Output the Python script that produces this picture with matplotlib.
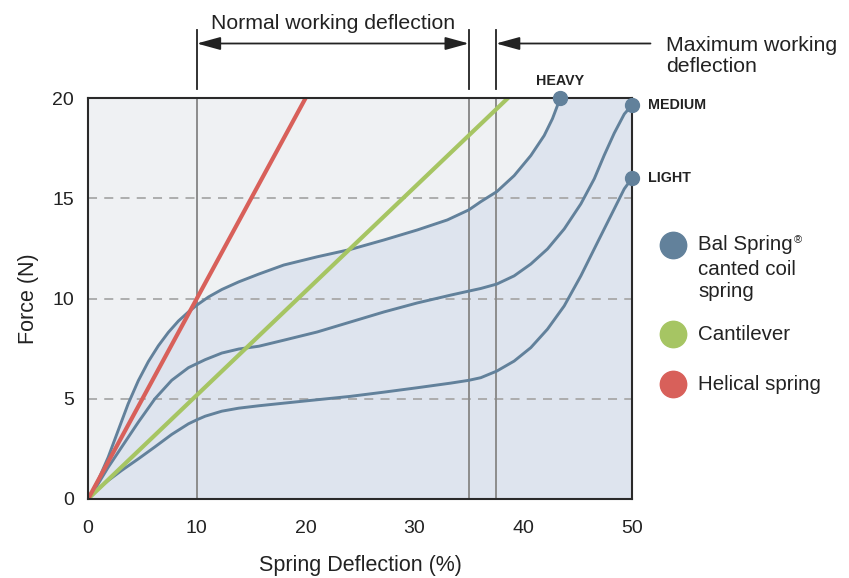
import matplotlib
matplotlib.use("Agg")
import matplotlib.pyplot as plt

plt.rcParams["font.family"] = ["Liberation Sans", "DejaVu Sans"]

# values
heavy_x = [0, 0.92, 1.85, 2.77, 3.69, 4.62, 5.54, 6.46, 7.38, 8.31, 9.23, 10.0,
           11.08, 12.3, 13.85, 15.7, 17.99, 21.06, 24.13, 27.2, 30.27, 33.03,
           35.0, 36.1, 37.57, 39.17, 40.7, 41.93, 42.69, 43.15, 43.4]
heavy_y = [0, 0.92, 2.08, 3.42, 4.75, 5.9, 6.85, 7.64, 8.31, 8.88, 9.33, 9.67,
           10.08, 10.45, 10.83, 11.22, 11.67, 12.08, 12.45, 12.92, 13.42, 13.92,
           14.42, 14.83, 15.33, 16.13, 17.13, 18.13, 18.97, 19.63, 20.0]

medium_x = [0, 0.92, 1.85, 3.08, 4.62, 6.15, 7.69, 9.23, 10.0, 10.77, 12.3, 13.85,
            15.7, 17.99, 21.06, 24.13, 27.2, 30.27, 33.34, 35.0, 36.1, 37.57,
            39.17, 40.7, 42.23, 43.77, 45.3, 46.53, 47.45, 48.37, 49.29, 50.0]
medium_y = [0, 0.75, 1.58, 2.58, 3.83, 5.0, 5.92, 6.55, 6.75, 6.95, 7.28, 7.48,
            7.62, 7.92, 8.33, 8.83, 9.33, 9.78, 10.17, 10.37, 10.5, 10.72,
            11.13, 11.72, 12.47, 13.47, 14.72, 15.97, 17.15, 18.25, 19.2, 19.65]

light_x = [0, 0.92, 1.85, 3.08, 4.62, 6.15, 7.69, 9.23, 10.0, 10.77, 12.3, 13.85,
           15.7, 17.99, 21.06, 24.13, 27.2, 30.27, 33.34, 35.0, 36.1, 37.57,
           39.17, 40.7, 42.23, 43.77, 45.3, 46.83, 48.37, 49.29, 50.0]
light_y = [0, 0.5, 0.92, 1.42, 2.0, 2.6, 3.22, 3.75, 3.95, 4.13, 4.38, 4.53,
           4.65, 4.78, 4.95, 5.12, 5.33, 5.55, 5.78, 5.92, 6.05, 6.38,
           6.88, 7.55, 8.47, 9.63, 11.13, 12.8, 14.47, 15.47, 16.0]

cantilever_x = [0, 38.6]
cantilever_y = [0, 20]

helical_x = [0, 20]
helical_y = [0, 20]

normal_range = [10, 35]
max_start = 37.5

x_ticks = [0, 10, 20, 30, 40, 50]
y_ticks = [0, 5, 10, 15, 20]

legend_labels = ["Bal Spring", "Cantilever", "Helical spring"]

BLUE = "#62819b"
GREEN = "#a6c563"
RED = "#d8605a"
TEXT = "#222222"


def main():
    fig = plt.figure(figsize=(8.49, 5.78), dpi=100)
    ax = fig.add_axes([0.1037, 0.1367, 0.6407, 0.6937])

    ax.set_xlim(0, 50)
    ax.set_ylim(0, 20)
    ax.set_facecolor("#eff1f3")

    # shaded region under the heavy curve
    fill_x = heavy_x + [50]
    fill_y = heavy_y + [20]
    ax.fill_between(fill_x, 0, fill_y, color="#dee4ee", lw=0, zorder=1)

    for yv in y_ticks[1:-1]:
        ax.axhline(yv, color="#a8a8a8", lw=1.3, ls=(0, (5, 4)), zorder=2)

    for xv in normal_range + [max_start]:
        ax.axvline(xv, color="#8c8c8c", lw=1.4, zorder=2)

    for xs, ys in [(heavy_x, heavy_y), (medium_x, medium_y), (light_x, light_y)]:
        ax.plot(xs, ys, color=BLUE, lw=2.1, zorder=3,
                solid_capstyle="round", solid_joinstyle="round")

    ax.plot(cantilever_x, cantilever_y, color=GREEN, lw=3, zorder=4)
    ax.plot(helical_x, helical_y, color=RED, lw=3, zorder=4)

    ends_x = [heavy_x[-1], medium_x[-1], light_x[-1]]
    ends_y = [heavy_y[-1], medium_y[-1], light_y[-1]]
    ax.plot(ends_x, ends_y, "o", color=BLUE, ms=10, zorder=6, clip_on=False)

    ax.text(heavy_x[-1], 20.85, "HEAVY", ha="center", va="center",
            fontsize=10.3, fontweight="bold", color=TEXT)
    ax.text(51.5, medium_y[-1], "MEDIUM", ha="left", va="center",
            fontsize=10.3, fontweight="bold", color=TEXT)
    ax.text(51.5, light_y[-1], "LIGHT", ha="left", va="center",
            fontsize=10.3, fontweight="bold", color=TEXT)

    # working deflection brackets above the plot
    for xv in normal_range + [max_start]:
        ax.plot([xv, xv], [20.45, 23.4], color=TEXT, lw=1.3, clip_on=False)

    head = "head_length=0.8,head_width=0.22"
    ax.annotate("", xy=(normal_range[0], 22.72), xytext=(normal_range[1], 22.72),
                arrowprops=dict(arrowstyle="<|-|>," + head, color=TEXT, lw=1.3,
                                mutation_scale=18, shrinkA=0, shrinkB=0),
                annotation_clip=False)
    ax.annotate("", xy=(max_start, 22.72), xytext=(51.7, 22.72),
                arrowprops=dict(arrowstyle="-|>," + head, color=TEXT, lw=1.3,
                                mutation_scale=18, shrinkA=0, shrinkB=0),
                annotation_clip=False)

    ax.text(sum(normal_range) / 2, 23.7, "Normal working deflection",
            ha="center", va="center", fontsize=15.3, color=TEXT)
    ax.text(53.1, 22.1, "Maximum working\ndeflection", ha="left", va="center",
            fontsize=15.3, color=TEXT, linespacing=1.12)

    # legend drawn by hand
    leg_x = 53.8
    txt_x = 56.1
    leg_y = [12.67, 8.21, 5.72]
    leg_colors = [BLUE, GREEN, RED]
    for yv, col in zip(leg_y, leg_colors):
        ax.plot(leg_x, yv, "o", color=col, ms=19, clip_on=False, zorder=6)

    bal = ax.text(txt_x, leg_y[0], legend_labels[0], ha="left", va="center",
                  fontsize=14.8, color=TEXT)
    ax.annotate("®", xy=(1, 1), xycoords=bal, xytext=(1, 0),
                textcoords="offset points", ha="left", va="top",
                fontsize=8, color=TEXT)
    ax.text(txt_x, leg_y[0] - 1.2, "canted coil", ha="left", va="center",
            fontsize=14.8, color=TEXT)
    ax.text(txt_x, leg_y[0] - 2.33, "spring", ha="left", va="center",
            fontsize=14.8, color=TEXT)
    ax.text(txt_x, leg_y[1], legend_labels[1], ha="left", va="center",
            fontsize=14.8, color=TEXT)
    ax.text(txt_x, leg_y[2], legend_labels[2], ha="left", va="center",
            fontsize=14.8, color=TEXT)

    ax.set_xticks(x_ticks)
    ax.set_yticks(y_ticks)
    ax.tick_params(length=0, labelsize=14, labelcolor=TEXT)
    ax.tick_params(axis="y", pad=10)
    ax.tick_params(axis="x", pad=15)

    for side in ["left", "right", "top", "bottom"]:
        ax.spines[side].set_color("#2a2a2a")
        ax.spines[side].set_linewidth(1.5)
        ax.spines[side].set_zorder(5)

    ax.set_xlabel("Spring Deflection (%)", fontsize=15.5, color=TEXT, labelpad=13)
    ax.set_ylabel("Force (N)", fontsize=15.5, color=TEXT, labelpad=10)

    fig.savefig("out.png", dpi=100)
    plt.close(fig)


if __name__ == "__main__":
    main()
